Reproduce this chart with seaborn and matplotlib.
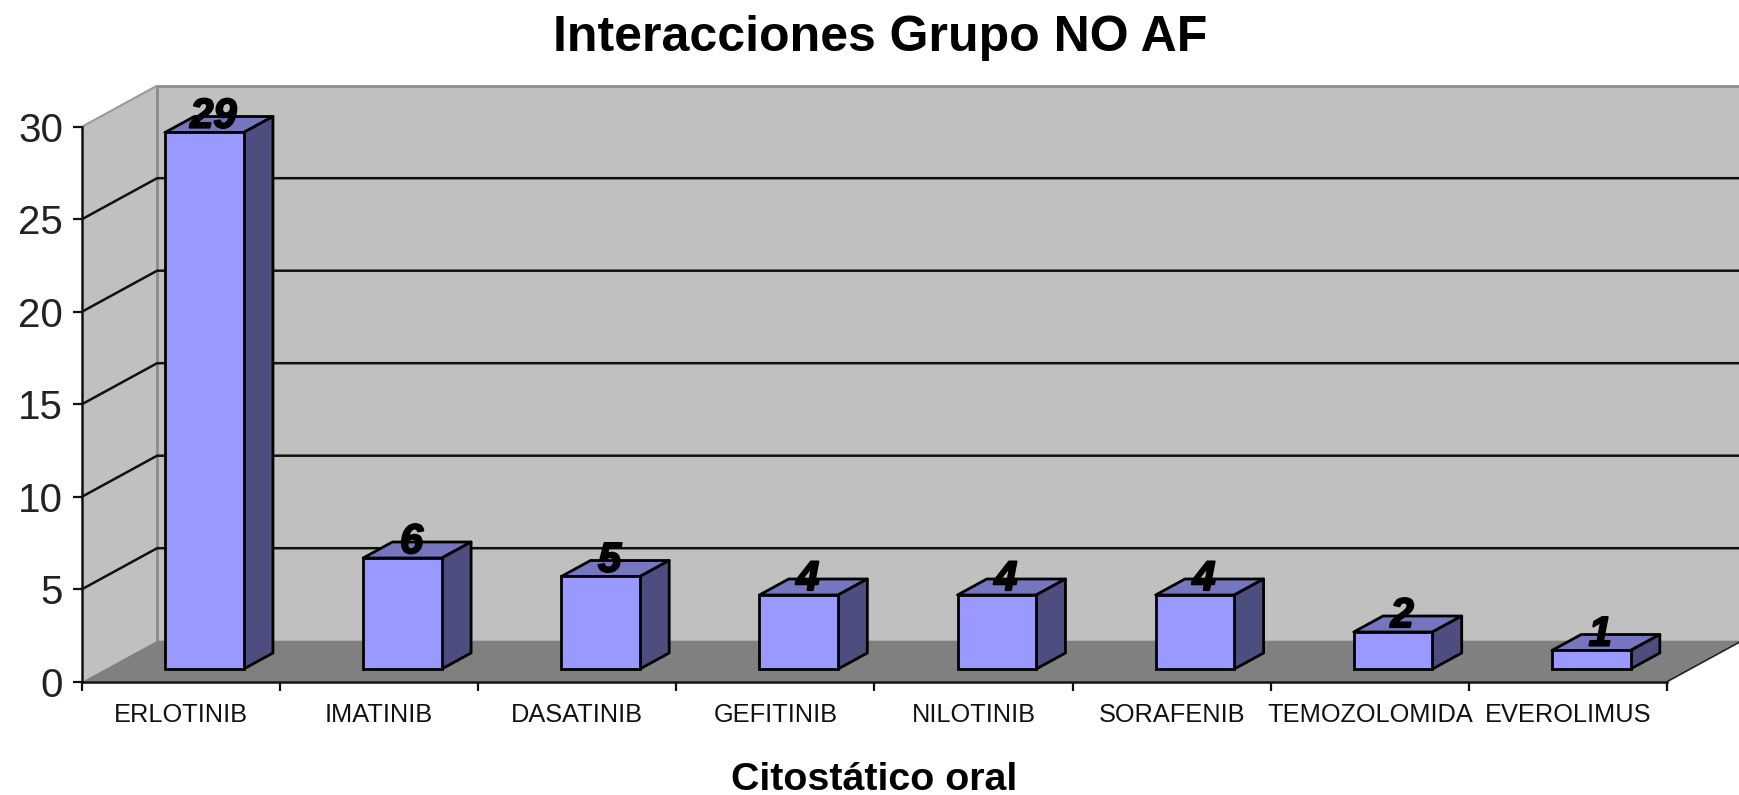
import matplotlib
matplotlib.use("Agg")
import matplotlib.patheffects as pe
import matplotlib.pyplot as plt
import pandas as pd
import seaborn as sns
from matplotlib.patches import Polygon
from matplotlib.transforms import Affine2D

farmacos = ["ERLOTINIB", "IMATINIB", "DASATINIB", "GEFITINIB",
            "NILOTINIB", "SORAFENIB", "TEMOZOLOMIDA", "EVEROLIMUS"]
interacciones = [29, 6, 5, 4, 4, 4, 2, 1]
escala_y = [0, 5, 10, 15, 20, 25, 30]

W, H = 1740, 795
sns.set_theme(style="white")
plt.rcParams["font.family"] = ["Liberation Sans", "DejaVu Sans"]

fig = plt.figure(figsize=(W / 100, H / 100), dpi=100, facecolor="white")
ax = fig.add_axes([82 / W, 1 - 681.7 / H, (1667 - 82) / W, 555 / H])

# Oblique projection: a point at depth d moves by (d*DX, d*DY) in data units
DX, DY = 0.379, 2.216
ANCHO = 0.397
D_FRENTE, D_FONDO = 0.31, 0.70
x0, x1 = -0.5, 7.5
y1 = escala_y[-1]

df = pd.DataFrame({"farmaco": farmacos, "n": interacciones})
sns.barplot(data=df, x="farmaco", y="n", order=farmacos, width=ANCHO,
            color="#9999FF", saturation=1, edgecolor="black", linewidth=2,
            ax=ax, zorder=6)


def proy(x, y, d):
    return (x + d * DX, y + d * DY)


def cara(puntos, color, z, edge="none", lw=0):
    ax.add_patch(Polygon(puntos, closed=True, facecolor=color, edgecolor=edge,
                         linewidth=lw, zorder=z, clip_on=False, joinstyle="round"))


# Walls and floor
cara([proy(x0, 0, 0), proy(x0, 0, 1), proy(x0, y1, 1), proy(x0, y1, 0)], "#C0C0C0", 1)
cara([proy(x0, 0, 1), proy(x1, 0, 1), proy(x1, y1, 1), proy(x0, y1, 1)], "#C0C0C0", 1)
cara([proy(x0, 0, 0), proy(x1, 0, 0), proy(x1, 0, 1), proy(x0, 0, 1)], "#808080", 2)


def linea(puntos, color="black", lw=2.0, z=3):
    xs, ys = zip(*puntos)
    ax.plot(xs, ys, color=color, lw=lw, zorder=z, clip_on=False,
            solid_capstyle="butt", solid_joinstyle="miter")


# Grey outline of the wall box
linea([proy(x0, 0, 1), proy(x0, y1, 1), proy(x1, y1, 1)], "#8C8C8C", 2.0, 2.5)
linea([proy(x0, y1, 0), proy(x0, y1, 1)], "#9A9A9A", 1.5, 2.5)

# Gridlines run across the side wall and the back wall
for v in escala_y[1:-1]:
    linea([proy(x0, v, 0), proy(x0, v, 1), proy(x1, v, 1)], "#111111", 1.8)
linea([proy(x1, 0, 0), proy(x1, 0, 1)], "#222222", 1.2)

# Shift the front faces to their depth, then add top and side faces
ax.set_xlim(x0, x1)
ax.set_ylim(0, y1)
desplazamiento = Affine2D().translate(D_FRENTE * DX, D_FRENTE * DY) + ax.transData
for rect in ax.patches[:len(interacciones)]:
    rect.set_transform(desplazamiento)
    rect.set_clip_on(False)

for i, v in enumerate(interacciones):
    a, b = i - ANCHO / 2, i + ANCHO / 2
    cara([proy(a, v, D_FRENTE), proy(b, v, D_FRENTE), proy(b, v, D_FONDO), proy(a, v, D_FONDO)],
         "#7676C0", 5, "black", 2)
    cara([proy(b, 0, D_FRENTE), proy(b, 0, D_FONDO), proy(b, v, D_FONDO), proy(b, v, D_FRENTE)],
         "#4D4D80", 5, "black", 2)
    ax.annotate(str(v), xy=proy(i, v, D_FRENTE), xytext=(6.5, 3.5),
                textcoords="offset points", ha="center", va="baseline",
                fontsize=30, fontweight="bold", fontstyle="italic",
                color="black", zorder=8, annotation_clip=False,
                path_effects=[pe.withStroke(linewidth=1.4, foreground="black")])

# Axes
for lado in ("top", "right"):
    ax.spines[lado].set_visible(False)
for lado in ("left", "bottom"):
    ax.spines[lado].set_color("#111111")
    ax.spines[lado].set_linewidth(1.8)
    ax.spines[lado].set_zorder(4)

ax.set_yticks(escala_y)
ax.tick_params(axis="y", length=6.5, width=1.6, color="#111111", pad=7,
               labelsize=29, labelcolor="#222222", left=True)
ax.set_xticks([i - 0.5 for i in range(len(farmacos) + 1)], labels=[""] * (len(farmacos) + 1))
ax.set_xticks(range(len(farmacos)), labels=farmacos, minor=True)
ax.tick_params(axis="x", which="major", length=6.5, width=1.6, color="#111111", bottom=True)
ax.tick_params(axis="x", which="minor", length=0, pad=15, labelsize=18.3, labelcolor="#111111")
ax.set_ylabel("")
ax.set_xlabel("Citostático oral", fontsize=28.4, fontweight="bold", color="black", va="baseline")
ax.xaxis.set_label_coords(0.5, (681.7 - 790) / 555)

fig.text(880 / W, 1 - 51 / H, "Interacciones Grupo NO AF", ha="center", va="baseline",
         fontsize=36, fontweight="bold", color="black")

fig.savefig("out.png", dpi=100, facecolor="white")
